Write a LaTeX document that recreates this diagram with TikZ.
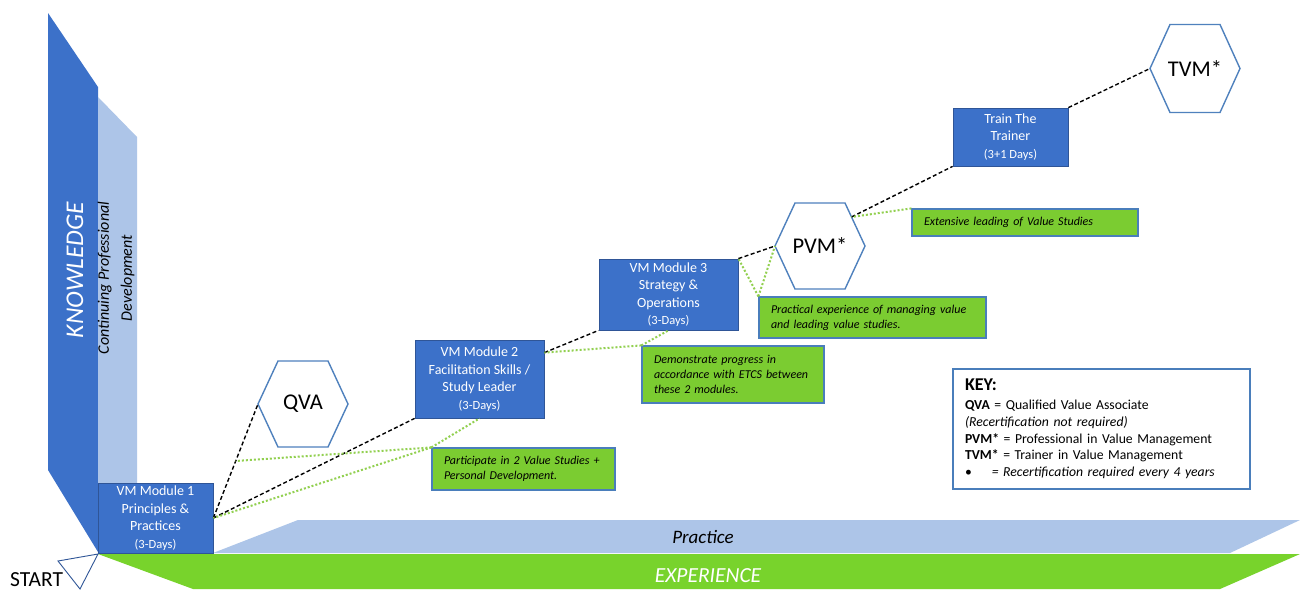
\documentclass[tikz,border=0pt]{standalone}
\usepackage{fontspec}
\setmainfont{Carlito}
\usetikzlibrary{calc}
\definecolor{kblue}{HTML}{3C71C9}
\definecolor{kborder}{HTML}{2F5597}
\definecolor{lblue}{HTML}{ADC5E8}
\definecolor{egreen}{HTML}{78D32C}
\definecolor{ngreen}{HTML}{7BCC31}
\definecolor{nborder}{HTML}{4A7EBB}
\definecolor{dotgreen}{HTML}{92D050}
\definecolor{hexborder}{HTML}{4F81BD}
\begin{document}
\begin{tikzpicture}[x=1pt,y=-1pt,
  modbox/.style={draw=kborder, line width=0.8pt, fill=kblue, text=white, align=center, inner sep=0pt, font=\fontsize{14}{17.5}\selectfont},
  notebox/.style={draw=nborder, line width=1.2pt, fill=ngreen, align=left, inner xsep=12pt, inner ysep=0pt, font=\itshape\fontsize{12}{15}\selectfont},
  hexline/.style={draw=hexborder, line width=1.4pt, fill=white},
  hextext/.style={font=\fontsize{22.5}{25}\selectfont, inner sep=0pt},
  pathline/.style={black, line width=1.4pt, dash pattern=on 4pt off 2.5pt},
  dotline/.style={dotgreen, line width=2pt, dash pattern=on 2pt off 2pt},
  barfont/.style={font=\itshape\fontsize{19}{22}\selectfont}
]
\useasboundingbox (0,0) rectangle (1300,589);
\fill[white] (0,0) rectangle (1300,589);

% background bars
\fill[kblue] (48,13) -- (98,87) -- (98,552) -- (48,470) -- cycle;
\fill[lblue] (98,97) -- (137,137) -- (137,527) -- (98,488) -- cycle;
\fill[lblue] (213,553) -- (298,520) -- (1300,520) -- (1230,553) -- cycle;
\fill[egreen] (98,554) -- (1300,554) -- (1220,589) -- (193,589) -- cycle;
\draw[draw=kborder, line width=0.9pt, fill=white] (58,561) -- (98,554) -- (80,589) -- cycle;

\node[rotate=90, text=white, font=\itshape\fontsize{25.5}{28}\selectfont] (know) at (75,270) {KNOWLEDGE};
\node[rotate=90, align=center, font=\itshape\fontsize{16}{23}\selectfont] (cpd) at (116,278) {Continuing Professional\\Development};
\node[barfont] (prac) at (703,537) {Practice};
\node[text=white, font=\itshape\fontsize{21.5}{24}\selectfont] (exp) at (708,576) {EXPERIENCE};
\node[anchor=base west, inner sep=0pt, font=\fontsize{21.5}{24}\selectfont] (start) at (10,586) {START};

% modules
\node[modbox, minimum width=115pt, minimum height=70pt] (M1) at (155.5,518) {VM Module 1\\Principles \&\\Practices\\{\fontsize{12.5}{17.5}\selectfont (3-Days)}};
\node[modbox, minimum width=129pt, minimum height=78pt] (M2) at (479.5,379) {VM Module 2\\Facilitation Skills /\\Study Leader\\{\fontsize{12.5}{17.5}\selectfont (3-Days)}};
\node[modbox, minimum width=139pt, minimum height=71pt] (M3) at (668.5,294.5) {VM Module 3\\Strategy \&\\Operations\\{\fontsize{12.5}{17.5}\selectfont (3-Days)}};
\node[modbox, minimum width=115pt, minimum height=58pt] (TT) at (1010.5,137) {Train The\\Trainer\\{\fontsize{12.5}{17.5}\selectfont (3+1 Days)}};

% hexagons
\coordinate (QVAc) at (303,404);
\draw[hexline] ($(QVAc)+(-45,0)$) coordinate (QVAw) -- ++(20,-43) -- ++(50,0) -- ++(20,43) -- ++(-20,43) -- ++(-50,0) -- cycle;
\node[hextext] (QVA) at (QVAc) {QVA};
\coordinate (PVMc) at (820,246);
\draw[hexline] ($(PVMc)+(-45,0)$) coordinate (PVMw) -- ++(20,-43) -- ++(50,0) -- ++(20,43) -- ++(-20,43) -- ++(-50,0) -- cycle;
\node[hextext] (PVM) at (PVMc) {PVM*};
\coordinate (PVMne) at ($(PVMc)+(31.5,-29)$);
\coordinate (TVMc) at (1195,68.5);
\draw[hexline] ($(TVMc)+(-45,0)$) coordinate (TVMw) -- ++(20,-44) -- ++(50,0) -- ++(20,44) -- ++(-20,44) -- ++(-50,0) -- cycle;
\node[hextext] (TVM) at (TVMc) {TVM*};

% notes
\node[notebox, text width=159pt, minimum height=42pt] (N1) at (523.5,469) {Participate in 2 Value Studies +\\Personal Development.};
\node[notebox, text width=158pt, minimum height=57pt] (N2) at (733,374.5) {Demonstrate progress in\\accordance with ETCS between\\these 2 modules.};
\node[notebox, text width=203pt, minimum height=41pt] (N3) at (872.5,317.5) {Practical experience of managing value\\and leading value studies.};
\node[notebox, text width=202pt, minimum height=27pt] (N4) at (1025,222.5) {Extensive leading of Value Studies};

% key
\node[draw=nborder, line width=1.2pt, fill=white, align=left, text width=273pt, inner xsep=12pt, inner ysep=0pt, minimum height=120pt, font=\fontsize{13.7}{16.8}\selectfont] (KEY) at (1101.5,429)
{{\fontsize{18}{20}\selectfont\bfseries KEY:}\\[2pt]
\textbf{QVA} = Qualified Value Associate\\
\textit{(Recertification not required)}\\
\textbf{PVM*} = Professional in Value Management\\
\textbf{TVM*} = Trainer in Value Management\\
•\hspace{20pt}\textit{= Recertification required every 4 years}};

% progression path
\coordinate (M2r) at ($(M2.north east)+(0,13)$);
\draw[pathline] (M1.east) -- (QVAw);
\draw[pathline] (M1.east) -- (M2.south west);
\draw[pathline] (M2r) -- (M3.south west);
\draw[pathline] (M3.north east) -- (PVMw);
\draw[pathline] (PVMne) -- (TT.south west);
\draw[pathline] (TT.north east) -- (TVMw);

% callout links
\draw[dotline] (N1.north west) -- ($(M1.east)!0.5!(QVAw)$);
\draw[dotline] (N1.north west) -- (M1.east);
\draw[dotline] (N1.north west) -- (M2.south);
\draw[dotline] (N2.north west) -- (M2r);
\draw[dotline] (N2.north west) -- (M3.south);
\draw[dotline] (N3.north west) -- (M3.north east);
\draw[dotline] (N3.north west) -- (PVMw);
\draw[dotline] (N4.north west) -- (PVMne);
\end{tikzpicture}
\end{document}
